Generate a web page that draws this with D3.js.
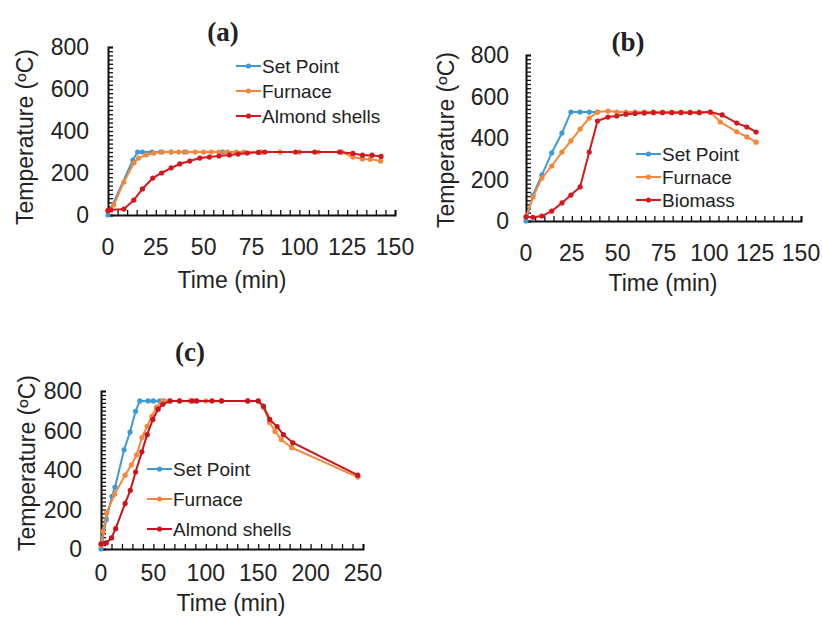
<!DOCTYPE html>
<html>
<head>
<meta charset="utf-8">
<script src="https://cdn.jsdelivr.net/npm/d3@7"></script>
<style>
  body { margin: 0; background: #fff; }
  svg text { font-family: "Liberation Sans", Arial, sans-serif; fill: #222; }
</style>
</head>
<body>
<div id="chart"></div>
<script>
// Panel (a) - almond shells, 300 ºC
const aSetPoint = [[0,0],[13,262],[15.5,300],[18,300],[23,300],[27.5,300],[33,300],[40,300],[60,300],[80,300],[100,300],[122,300]];
const aFurnace = [[0,20],[3,48],[8.3,157],[13.5,248],[16,271],[20,286],[24,295],[28.5,300],[33,300],[37,300],[41,300],[45.5,300],[50,300],[54,300],[58,300],[62.5,300],[67,300],[71,300],[80,300],[90,300],[100,300],[110,300],[122,300],[128,276],[133,267],[137,266],[142.5,257]];
const aShells = [[0,22],[1.5,24],[8.3,28],[13.5,71],[18,124],[23.4,176],[28,200],[33,224],[37.5,243],[42.7,257],[48,271],[53,276],[58,281],[63.5,286],[68,290],[72.8,295],[78.6,298],[82,300],[98,300],[108,300],[121,300],[128,293],[133,285],[138,285],[142.7,279]];

// Panel (b) - biomass, 525 ºC
const bSetPoint = [[0,0],[3.8,125],[8.7,222],[14,328],[19.6,424],[24.5,525],[29.5,525],[34.5,525],[39,525]];
const bFurnace = [[0,20],[3.8,116],[8.7,207],[14,265],[19.6,332],[24.5,386],[29.5,443],[34.5,496],[39,525],[44.7,530],[49.5,525],[54.5,525],[59.5,525],[64.5,525],[69.5,525],[74.5,525],[79.5,525],[84.5,525],[89.5,525],[94.5,525],[100.5,525],[106,477],[115,430],[120.5,405],[125.5,380]];
const bBiomass = [[0,20],[3.8,18],[8.7,24],[14,48],[19.6,87],[24.5,125],[29.5,164],[34.5,332],[39,482],[44.7,501],[49.5,506],[54.5,515],[59.5,518],[64.5,520],[69.5,522],[74.5,522],[79.5,522],[84.5,522],[89.5,522],[94.5,522],[100.5,525],[107,511],[115,472],[120.5,453],[125.5,429]];

// Panel (c) - almond shells, 750 ºC
const cSetPoint = [[0,0],[5,150],[10.5,267],[13.4,313],[22,502],[27.7,592],[33,697],[37,750],[45,750],[50,750],[56,750],[60,750]];
const cFurnace = [[0,20],[2,90],[5.5,185],[13,277],[23,374],[29,426],[34,477],[39,564],[44,621],[48.5,672],[53,718],[59,750],[65,750],[75,750],[85,750],[90,750],[100,750],[115,750],[140,750],[150,750],[155,718],[161,641],[166,595],[172,554],[182,513],[245,364]];
const cShells = [[0,26],[5,31],[10,56],[14,103],[23,231],[28,297],[33,390],[39,492],[44,579],[49.5,656],[54.5,708],[59,733],[66,750],[75,750],[87,750],[91.5,750],[106,750],[115,750],[140,750],[150,750],[155,723],[161,656],[168,620],[174,579],[183,538],[245,374]];

const yTicks = [0, 200, 400, 600, 800];
const xTicksAB = [0, 25, 50, 75, 100, 125, 150];
const xTicksC = [0, 50, 100, 150, 200, 250];

const colors = {set: '#3d9ad6', furnace: '#f5873a', sample: '#d2191f'};

const svg = d3.select('#chart').append('svg')
    .attr('width', 822)
    .attr('height', 617);

function drawPanel(p) {
    const x = d3.scaleLinear().domain(p.xDomain).range([p.x0, p.x1]);
    const y = d3.scaleLinear().domain([0, 800]).range([p.y0, p.y1]);
    const g = svg.append('g');

    // minor ticks, drawn inside the plot
    const yAxis = d3.axisRight(y).tickValues(d3.range(0, 801, 20)).tickSize(5).tickFormat('');
    const xAxis = d3.axisTop(x).tickValues(d3.range(p.xDomain[0], p.xDomain[1] + 0.1, p.xMinor)).tickSize(5).tickFormat('');
    const gy = g.append('g').attr('transform', `translate(${p.x0},0)`).call(yAxis);
    const gx = g.append('g').attr('transform', `translate(0,${p.y0})`).call(xAxis);
    [gy, gx].forEach(a => {
        a.select('.domain').attr('stroke', '#111').attr('stroke-width', 2);
        a.selectAll('.tick line').attr('stroke', '#111').attr('stroke-width', 1.3);
    });

    // tick labels
    g.selectAll('.ylab').data(yTicks).join('text')
        .attr('x', p.x0 - p.yGap)
        .attr('y', d => y(d))
        .attr('dy', '0.36em')
        .attr('text-anchor', 'end')
        .style('font-size', '23px')
        .text(d => d);
    g.selectAll('.xlab').data(p.xTicks).join('text')
        .attr('x', d => x(d))
        .attr('y', p.xLabY)
        .attr('dy', '0.36em')
        .attr('text-anchor', 'middle')
        .style('font-size', '23px')
        .text(d => d);

    // axis titles
    g.append('text')
        .attr('x', p.xTitle[0])
        .attr('y', p.xTitle[1])
        .attr('dy', '0.36em')
        .attr('text-anchor', 'middle')
        .style('font-size', '23px')
        .text('Time (min)');
    g.append('text')
        .attr('transform', `translate(${p.yTitle[0]},${p.yTitle[1]}) rotate(-90)`)
        .attr('dy', '0.36em')
        .attr('text-anchor', 'middle')
        .style('font-size', '23px')
        .text('Temperature (ºC)');

    // panel title
    g.append('text')
        .attr('x', p.titleX)
        .attr('y', p.titleY)
        .attr('dy', '0.35em')
        .attr('text-anchor', 'middle')
        .style('font-family', '"Liberation Serif", serif')
        .style('font-weight', 'bold')
        .style('font-size', '27px')
        .text(p.title);

    const line = d3.line().x(d => x(d[0])).y(d => y(d[1]));
    p.series.forEach(s => {
        g.append('path').datum(s.data)
            .attr('fill', 'none')
            .attr('stroke', s.color)
            .attr('stroke-width', 2)
            .attr('d', line);
        g.selectAll(null).data(s.data).join('circle')
            .attr('cx', d => x(d[0]))
            .attr('cy', d => y(d[1]))
            .attr('r', 2.6)
            .attr('fill', s.color);
    });

    // legend
    p.series.forEach((s, i) => {
        const ly = p.legY + i * p.legStep;
        g.append('line')
            .attr('x1', p.legX).attr('x2', p.legX + 25)
            .attr('y1', ly).attr('y2', ly)
            .attr('stroke', s.color).attr('stroke-width', 2);
        g.append('circle')
            .attr('cx', p.legX + 12.5).attr('cy', ly).attr('r', 2.6)
            .attr('fill', s.color);
        g.append('text')
            .attr('x', p.legX + 26)
            .attr('y', ly)
            .attr('dy', '0.36em')
            .style('font-size', '19px')
            .text(s.name);
    });
}

drawPanel({
    title: '(a)', titleX: 223, titleY: 32,
    xDomain: [0, 150], xTicks: xTicksAB, xMinor: 5,
    x0: 108, x1: 395, y0: 215, y1: 47,
    yGap: 19, xLabY: 247, xTitle: [232, 280], yTitle: [25, 137],
    legX: 236, legY: 66, legStep: 25,
    series: [
        {name: 'Set Point', color: colors.set, data: aSetPoint},
        {name: 'Furnace', color: colors.furnace, data: aFurnace},
        {name: 'Almond shells', color: colors.sample, data: aShells}
    ]
});

drawPanel({
    title: '(b)', titleX: 628, titleY: 42,
    xDomain: [0, 150], xTicks: xTicksAB, xMinor: 5,
    x0: 526, x1: 801, y0: 221, y1: 55,
    yGap: 17, xLabY: 253, xTitle: [663, 283], yTitle: [446, 140],
    legX: 636, legY: 154, legStep: 23,
    series: [
        {name: 'Set Point', color: colors.set, data: bSetPoint},
        {name: 'Furnace', color: colors.furnace, data: bFurnace},
        {name: 'Biomass', color: colors.sample, data: bBiomass}
    ]
});

drawPanel({
    title: '(c)', titleX: 190, titleY: 352,
    xDomain: [0, 250], xTicks: xTicksC, xMinor: 10,
    x0: 101, x1: 363, y0: 549, y1: 391,
    yGap: 19, xLabY: 573, xTitle: [231, 603], yTitle: [27, 463],
    legX: 147, legY: 469, legStep: 30,
    series: [
        {name: 'Set Point', color: colors.set, data: cSetPoint},
        {name: 'Furnace', color: colors.furnace, data: cFurnace},
        {name: 'Almond shells', color: '#c8141e', data: cShells}
    ]
});
</script>
</body>
</html>
